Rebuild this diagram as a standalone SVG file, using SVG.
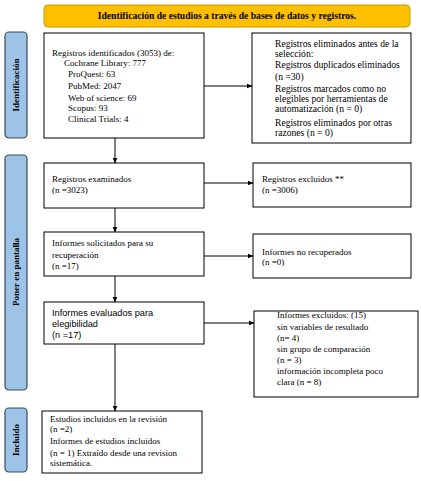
<svg xmlns="http://www.w3.org/2000/svg" width="421" height="481" viewBox="0 0 421 481">
<defs>
<marker id="ah" markerWidth="6" markerHeight="6" refX="5.5" refY="3" orient="auto" markerUnits="userSpaceOnUse">
<path d="M0,0.5 L6,3 L0,5.5 Z" fill="#000"/>
</marker>
<style>
.box{fill:#fff;stroke:#000;stroke-width:1}
.t{font-family:"Liberation Serif","Times New Roman",serif;font-size:9px;fill:#000}
.t2{font-size:9.6px}
.s{font-family:"Liberation Sans",Arial,sans-serif;font-size:9.2px;fill:#000}
.side{fill:#9dc3e6;stroke:#3a4a5c;stroke-width:1.2}
.sl{font-family:"Liberation Serif","Times New Roman",serif;font-size:9px;font-weight:bold;fill:#000;text-anchor:middle}
.conn{stroke:#000;stroke-width:1;fill:none}
</style>
</defs>
<rect width="421" height="481" fill="#fff"/>
<g id="banner">
<rect x="44" y="5" width="366" height="22" rx="4" fill="#ffc000" stroke="#c99a00" stroke-width="1"/>
<text x="227" y="19" font-family="'Liberation Serif','Times New Roman',serif" font-size="9.6" font-weight="bold" text-anchor="middle">Identificación de estudios a través de bases de datos y registros.</text>
</g>
<g id="side-identificacion">
<rect class="side" x="5" y="32" width="22" height="106" rx="4"/>
<text class="sl" transform="translate(19,85) rotate(-90)">Identificación</text>
</g>
<g id="side-pantalla">
<rect class="side" x="5" y="155" width="22" height="235" rx="4"/>
<text class="sl" transform="translate(19,272) rotate(-90)">Poner en pantalla</text>
</g>
<g id="side-incluido">
<rect class="side" x="5" y="408" width="22" height="64" rx="4"/>
<text class="sl" transform="translate(19,440) rotate(-90)">Incluido</text>
</g>
<g id="n1">
<rect class="box" x="44" y="33" width="160" height="105"/>
<text class="t"><tspan x="52" y="56">Registros identificados (3053) de:</tspan><tspan x="64" y="66">Cochrane Library: 777</tspan><tspan x="68" y="77">ProQuest: 63</tspan><tspan x="68" y="89">PubMed: 2047</tspan><tspan x="68" y="101">Web of science: 69</tspan><tspan x="68" y="111">Scopus: 93</tspan><tspan x="68" y="122">Clinical Trials: 4</tspan></text>
</g>
<g id="n2">
<rect class="box" x="252" y="33" width="159" height="110"/>
<text class="t t2"><tspan x="275" y="47">Registros eliminados antes de la</tspan><tspan x="275" y="57">selección:</tspan><tspan x="275" y="68">Registros duplicados eliminados</tspan><tspan x="275" y="80">(n =30)</tspan><tspan x="275" y="92">Registros marcados como no</tspan><tspan x="275" y="102">elegibles por herramientas de</tspan><tspan x="275" y="112">automatización (n = 0)</tspan><tspan x="275" y="126">Registros eliminados por otras</tspan><tspan x="275" y="136">razones (n = 0)</tspan></text>
</g>
<g id="n3">
<rect class="box" x="44" y="163" width="160" height="45"/>
<text class="t"><tspan x="52" y="182">Registros examinados</tspan><tspan x="52" y="193">(n =3023)</tspan></text>
</g>
<g id="n4">
<rect class="box" x="253" y="163" width="158" height="44"/>
<text class="t"><tspan x="262" y="182">Registros excluidos **</tspan><tspan x="262" y="193">(n =3006)</tspan></text>
</g>
<g id="n5">
<rect class="box" x="44" y="232" width="160" height="44"/>
<text class="t"><tspan x="52" y="246">Informes solicitados para su</tspan><tspan x="52" y="258">recuperación</tspan><tspan x="52" y="269">(n =17)</tspan></text>
</g>
<g id="n6">
<rect class="box" x="253" y="234" width="158" height="44"/>
<text class="t"><tspan x="262" y="255">Informes no recuperados</tspan><tspan x="262" y="265">(n =0)</tspan></text>
</g>
<g id="n7">
<rect class="box" x="44" y="302" width="160" height="42"/>
<text class="s"><tspan x="52" y="316">Informes evaluados para</tspan><tspan x="52" y="327">elegibilidad</tspan><tspan x="52" y="338">(n =17)</tspan></text>
</g>
<g id="n8">
<rect class="box" x="254" y="311" width="164" height="86"/>
<text class="t"><tspan x="277" y="318">Informes excluidos: (15)</tspan><tspan x="277" y="330">sin variables de resultado</tspan><tspan x="277" y="341">(n= 4)</tspan><tspan x="277" y="352">sin grupo de comparación</tspan><tspan x="277" y="363">(n = 3)</tspan><tspan x="277" y="374">información incompleta poco</tspan><tspan x="277" y="385">clara (n = 8)</tspan></text>
</g>
<g id="n9">
<rect class="box" x="42" y="411" width="160" height="62"/>
<text class="t"><tspan x="50" y="422">Estudios incluidos en la revisión</tspan><tspan x="50" y="432">(n =2)</tspan><tspan x="50" y="444">Informes de estudios incluidos</tspan><tspan x="50" y="456">(n = 1) Extraído desde una revision</tspan><tspan x="50" y="466">sistemática.</tspan></text>
</g>
<g id="connectors">
<line class="conn" x1="204" y1="86" x2="252" y2="86" marker-end="url(#ah)"/>
<line class="conn" x1="115" y1="138" x2="115" y2="163" marker-end="url(#ah)"/>
<line class="conn" x1="204" y1="183" x2="253" y2="183" marker-end="url(#ah)"/>
<line class="conn" x1="115" y1="208" x2="115" y2="232" marker-end="url(#ah)"/>
<line class="conn" x1="204" y1="256" x2="253" y2="256" marker-end="url(#ah)"/>
<line class="conn" x1="115" y1="276" x2="115" y2="302" marker-end="url(#ah)"/>
<line class="conn" x1="204" y1="323" x2="254" y2="323" marker-end="url(#ah)"/>
<line class="conn" x1="115" y1="344" x2="115" y2="411" marker-end="url(#ah)"/>
</g>
</svg>
